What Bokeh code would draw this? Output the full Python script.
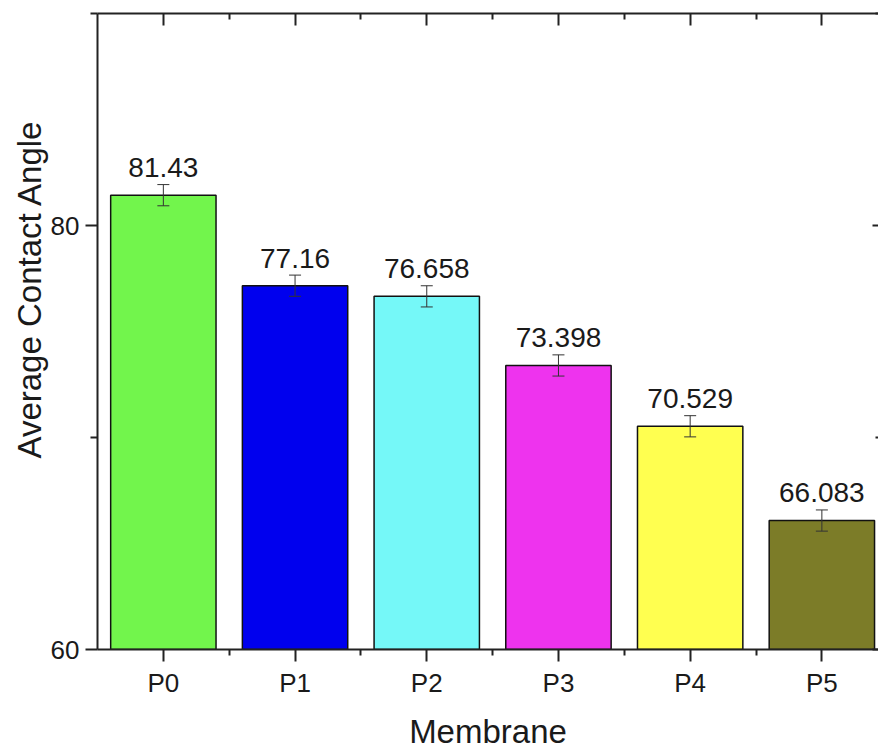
from bokeh.plotting import figure
from bokeh.models import (ColumnDataSource, FixedTicker, LinearAxis, Whisker,
                          TeeHead, Title, Range1d)
from bokeh.embed import file_html
from bokeh.resources import INLINE
from bokeh.core.properties import value

# Contact angle measurements per membrane
membranes = ["P0", "P1", "P2", "P3", "P4", "P5"]
mean_angle = [81.43, 77.16, 76.658, 73.398, 70.529, 66.083]
angle_err = [0.5, 0.5, 0.5, 0.5, 0.5, 0.5]
bar_colors = ["#72F54C", "#0000EE", "#75F8F8", "#EE33EE", "#FFFF50", "#7C7C28"]
y_ticks = [60, 80]
y_minor_ticks = [70, 90]

BASE = 60
FONT = "Liberation Sans"
INK = "#1a1a1a"

idx = list(range(len(membranes)))
mid_ticks = [i + 0.5 for i in idx[:-1]]

src = ColumnDataSource(dict(
    x=idx,
    top=mean_angle,
    upper=[m + e for m, e in zip(mean_angle, angle_err)],
    lower=[m - e for m, e in zip(mean_angle, angle_err)],
    label=[f"{m:g}" for m in mean_angle],
    color=bar_colors,
))

p = figure(width=878, height=752, output_backend="svg", toolbar_location=None,
           x_range=Range1d(-0.5, 5.43), y_range=Range1d(60, 90),
           min_border_left=97, min_border_right=0, min_border_top=13,
           min_border_bottom=100, x_axis_type=None, y_axis_type=None)
p.outline_line_color = None
p.grid.visible = False
p.background_fill_color = "white"
p.border_fill_color = "white"

p.vbar(x="x", top="top", bottom=BASE, width=0.8, source=src,
       fill_color="color", line_color="#111111", line_width=1.5)

p.add_layout(Whisker(base="x", upper="upper", lower="lower", source=src,
                     level="overlay", line_color="#333333", line_width=1,
                     upper_head=TeeHead(size=12, line_color="#333333", line_width=1),
                     lower_head=TeeHead(size=12, line_color="#333333", line_width=1)))

p.text(x="x", y="upper", text="label", source=src, text_align="center",
       text_baseline="alphabetic", y_offset=-17, text_color=INK,
       text_font=value(FONT), text_font_size="28px")

x_ticker = FixedTicker(ticks=idx, minor_ticks=mid_ticks)
y_ticker = FixedTicker(ticks=y_ticks, minor_ticks=y_minor_ticks)

def style_axis(ax):
    ax.axis_line_width = 2
    ax.axis_line_color = "#222222"
    ax.major_tick_line_width = 2
    ax.minor_tick_line_width = 2
    ax.major_tick_line_color = "#222222"
    ax.minor_tick_line_color = "#222222"
    ax.major_label_text_font = FONT
    ax.major_label_text_font_size = "26px"
    ax.major_label_text_color = INK
    ax.axis_label_text_font = FONT
    ax.axis_label_text_font_size = "33px"
    ax.axis_label_text_font_style = "normal"
    ax.axis_label_text_color = INK

bottom = LinearAxis(ticker=x_ticker,
                    major_label_overrides={i: n for i, n in zip(idx, membranes)},
                    axis_label="Membrane")
style_axis(bottom)
bottom.major_tick_out = 12
bottom.major_tick_in = 0
bottom.minor_tick_out = 6
bottom.minor_tick_in = 0
bottom.major_label_standoff = 6
bottom.axis_label_standoff = 12
p.add_layout(bottom, "below")

# mirrored frame axes: ticks only
top = LinearAxis(ticker=x_ticker, major_label_overrides={i: "" for i in idx})
style_axis(top)
top.major_tick_out = 0
top.major_tick_in = 12
top.minor_tick_out = 0
top.minor_tick_in = 6
top.major_label_standoff = 0
p.add_layout(top, "above")

left = LinearAxis(ticker=y_ticker)
style_axis(left)
left.major_tick_out = 12
left.major_tick_in = 0
left.minor_tick_out = 7
left.minor_tick_in = 0
left.major_label_standoff = 6
p.add_layout(left, "left")

right = LinearAxis(ticker=y_ticker, major_label_overrides={t: "" for t in y_ticks})
style_axis(right)
right.axis_line_alpha = 0
right.major_tick_out = 0
right.major_tick_in = 6
right.minor_tick_out = 0
right.minor_tick_in = 3
right.major_label_standoff = 0
p.add_layout(right, "right")

p.add_layout(Title(text="Average Contact Angle", align="left", offset=191,
                   text_font=FONT, text_font_size="33px", text_font_style="normal",
                   text_color=INK, standoff=0), "left")

open("out.html", "w").write(file_html(p, INLINE))
